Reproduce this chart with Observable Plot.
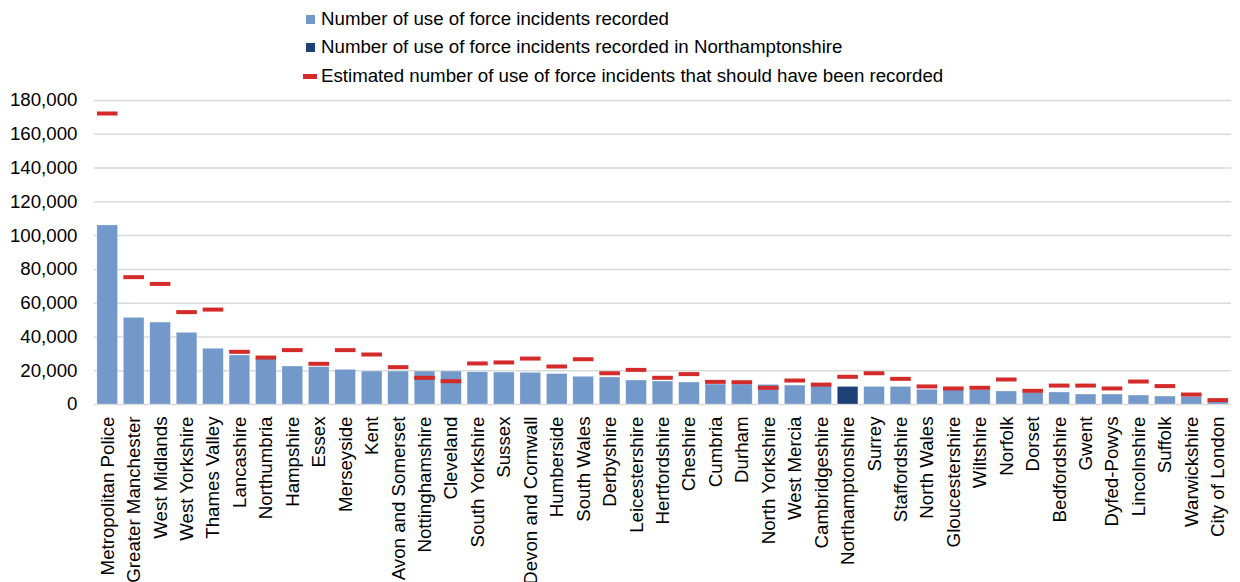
<!DOCTYPE html>
<html>
<head>
<meta charset="utf-8">
<script src="https://cdn.jsdelivr.net/npm/d3@7"></script>
<script src="https://cdn.jsdelivr.net/npm/@observablehq/plot@0.6"></script>
<style>
  html, body { margin: 0; padding: 0; background: #fff; }
  body { width: 1240px; height: 582px; overflow: hidden; font-family: "Liberation Sans", Arial, sans-serif; color: #000; }
  #legend { position: relative; height: 90px; }
  .item { position: absolute; left: 321px; font-size: 18.7px; line-height: 20px; white-space: nowrap; }
  .sw { position: absolute; }
</style>
</head>
<body>
<div id="legend"></div>
<div id="chart"></div>
<script>
const forces = ["Metropolitan Police","Greater Manchester","West Midlands","West Yorkshire","Thames Valley","Lancashire","Northumbria","Hampshire","Essex","Merseyside","Kent","Avon and Somerset","Nottinghamshire","Cleveland","South Yorkshire","Sussex","Devon and Cornwall","Humberside","South Wales","Derbyshire","Leicestershire","Hertfordshire","Cheshire","Cumbria","Durham","North Yorkshire","West Mercia","Cambridgeshire","Northamptonshire","Surrey","Staffordshire","North Wales","Gloucestershire","Wiltshire","Norfolk","Dorset","Bedfordshire","Gwent","Dyfed-Powys","Lincolnshire","Suffolk","Warwickshire","City of London"];
const recorded = [106000,51300,48500,42400,33000,29000,27000,22500,22100,20500,19500,19500,19500,19500,19100,18900,18700,18000,16400,16000,14200,13600,13000,11800,11800,11600,11200,11000,10400,10400,10400,8700,8500,8500,7700,6900,7100,5900,5900,5300,4700,4500,1800];
const estimated = [172300,75400,71400,54700,56200,31200,27800,32200,24100,32200,29600,22100,15800,13800,24300,24900,27200,22500,26800,18500,20500,15800,18000,13400,13200,9900,14200,11800,16400,18500,15200,10700,9500,9900,14800,8100,11200,11200,9500,13600,10900,5900,2600];
const yTicks = [0,20000,40000,60000,80000,100000,120000,140000,160000,180000];
const highlight = "Northamptonshire";
const legendLabels = ["Number of use of force incidents recorded","Number of use of force incidents recorded in Northamptonshire","Estimated number of use of force incidents that should have been recorded"];
const colors = {bar: "#7399cb", highlight: "#1f3f77", est: "#d42a2a", grid: "#d9d9d9"};

const data = forces.map((f, i) => ({force: f, recorded: recorded[i], estimated: estimated[i]}));

// Legend
const legend = document.getElementById("legend");
const legendY = [9, 37, 66];
legendLabels.forEach((t, i) => {
  const d = document.createElement("div");
  d.className = "item";
  d.style.top = legendY[i] + "px";
  d.textContent = t;
  legend.appendChild(d);
  const s = document.createElement("div");
  s.className = "sw";
  if (i < 2) {
    s.style.left = "306px"; s.style.top = (legendY[i] + 6) + "px";
    s.style.width = "9px"; s.style.height = "9px";
    s.style.background = i === 0 ? colors.bar : colors.highlight;
  } else {
    s.style.left = "303px"; s.style.top = (legendY[i] + 8) + "px";
    s.style.width = "14px"; s.style.height = "5px";
    s.style.background = colors.est;
  }
  legend.appendChild(s);
});

const chart = Plot.plot({
  width: 1240,
  height: 492,
  marginTop: 10,
  marginBottom: 178,
  marginLeft: 94,
  marginRight: 9,
  style: {fontFamily: "'Liberation Sans', Arial, sans-serif", fontSize: "18.7px", color: "#000", background: "transparent"},
  x: {domain: forces, paddingInner: 0.22, paddingOuter: 0.11, round: false, label: null},
  y: {domain: [0, 180000], label: null},
  marks: [
    Plot.ruleY(yTicks, {stroke: colors.grid, strokeWidth: 1.5}),
    Plot.barY(data, {x: "force", y: "recorded", fill: d => d.force === highlight ? colors.highlight : colors.bar, stroke: "#fff", strokeOpacity: 0.5, strokeWidth: 0.5}),
    Plot.tickY(data, {x: "force", y: "estimated", stroke: colors.est, strokeWidth: 4}),
    Plot.axisY({ticks: yTicks, tickFormat: d3.format(","), tickSize: 0, tickPadding: 17, label: null, fontSize: 18.7}),
    Plot.axisX({tickRotate: -90, tickSize: 0, tickPadding: 12, label: null, fontSize: 18.7})
  ]
});
document.getElementById("chart").appendChild(chart);
</script>
</body>
</html>
